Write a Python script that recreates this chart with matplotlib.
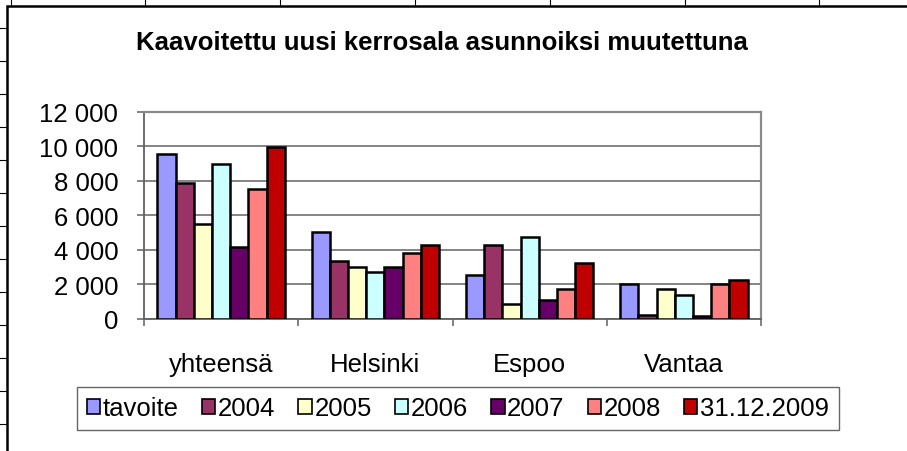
import matplotlib
matplotlib.use('Agg')
import matplotlib.pyplot as plt
import numpy as np
from matplotlib.lines import Line2D
from matplotlib.patches import Patch
from matplotlib.ticker import FuncFormatter, MultipleLocator

plt.rcParams['font.family'] = ['Liberation Sans', 'DejaVu Sans']

categories = ['yhteensä', 'Helsinki', 'Espoo', 'Vantaa']
series_names = ['tavoite', '2004', '2005', '2006', '2007', '2008', '31.12.2009']
tavoite = [9550, 5000, 2500, 2000]
v2004 = [7850, 3320, 4250, 200]
v2005 = [5500, 3000, 860, 1690]
v2006 = [8950, 2720, 4720, 1360]
v2007 = [4180, 2970, 1070, 130]
v2008 = [7520, 3790, 1700, 2020]
v2009 = [9950, 4300, 3200, 2220]
series = [tavoite, v2004, v2005, v2006, v2007, v2008, v2009]
colors = ['#9999FF', '#993366', '#FFFFCC', '#CCFFFF', '#660066', '#FF8080', '#C00000']

FS = 18.5
W, H = 907, 452
fig = plt.figure(figsize=(W / 100, H / 100), dpi=100)

def fx(px):
    return px / W

def fy(py):
    return 1 - py / H

# spreadsheet cell lines behind the chart
for x in [11, 145, 280, 415, 550, 685, 819]:
    fig.add_artist(Line2D([fx(x), fx(x)], [fy(0), fy(7)], color='black', lw=0.8))
for y in range(29, 452, 33):
    fig.add_artist(Line2D([fx(0), fx(7)], [fy(y), fy(y)], color='black', lw=0.8))
# chart area border
fig.add_artist(Line2D([fx(7), fx(7), fx(907)], [fy(452), fy(7), fy(7)],
                      color='black', lw=1.8, solid_joinstyle='miter'))

ax = fig.add_axes([fx(144), fy(319.5), fx(761) - fx(144), fy(113) - fy(319.5)])

n = len(series)
bw = 0.118
x = np.arange(len(categories))
for i, (vals, c) in enumerate(zip(series, colors)):
    ax.bar(x + (i - (n - 1) / 2) * bw, vals, bw, color=c, edgecolor='black',
           linewidth=1.8, zorder=3, label=series_names[i])

ax.set_xlim(-0.5, len(categories) - 0.5)
ax.set_ylim(0, 12000)
ax.yaxis.set_major_locator(MultipleLocator(2000))
ax.yaxis.set_major_formatter(FuncFormatter(lambda v, p: f'{int(v):,}'.replace(',', ' ')))
ax.yaxis.grid(True, color='#707070', lw=1.2, zorder=0)

ax.set_xticks(np.arange(len(categories) + 1) - 0.5)
ax.set_xticklabels([])
ax.set_xticks(x, minor=True)
ax.set_xticklabels(categories, minor=True)
ax.tick_params(axis='x', which='minor', length=0, pad=24, labelsize=FS)
ax.tick_params(axis='x', which='major', length=5, width=1.1, color='#606060')
ax.tick_params(axis='y', length=5, width=1.1, color='#606060', pad=13.5, labelsize=FS)

for s in ['left', 'bottom']:
    ax.spines[s].set_color('#606060')
    ax.spines[s].set_linewidth(1.3)
for s in ['top', 'right']:
    ax.spines[s].set_color('#8a8a8a')
    ax.spines[s].set_linewidth(1.6)

fig.text(fx(442), fy(50), 'Kaavoitettu uusi kerrosala asunnoiksi muutettuna',
         ha='center', va='baseline', fontsize=FS, fontweight='bold')

handles = [Patch(facecolor=c, edgecolor='black', linewidth=1.2) for c in colors]
leg = fig.legend(handles, series_names, loc='center', ncol=7,
                 bbox_to_anchor=(fx(458), fy(409.5)), fontsize=FS,
                 handlelength=0.52, handleheight=0.52, handletextpad=0.1,
                 columnspacing=0.9, borderpad=0.38, borderaxespad=0,
                 frameon=True, fancybox=False)
leg.get_frame().set_edgecolor('#404040')
leg.get_frame().set_linewidth(1.0)

fig.savefig('out.png', dpi=100)
